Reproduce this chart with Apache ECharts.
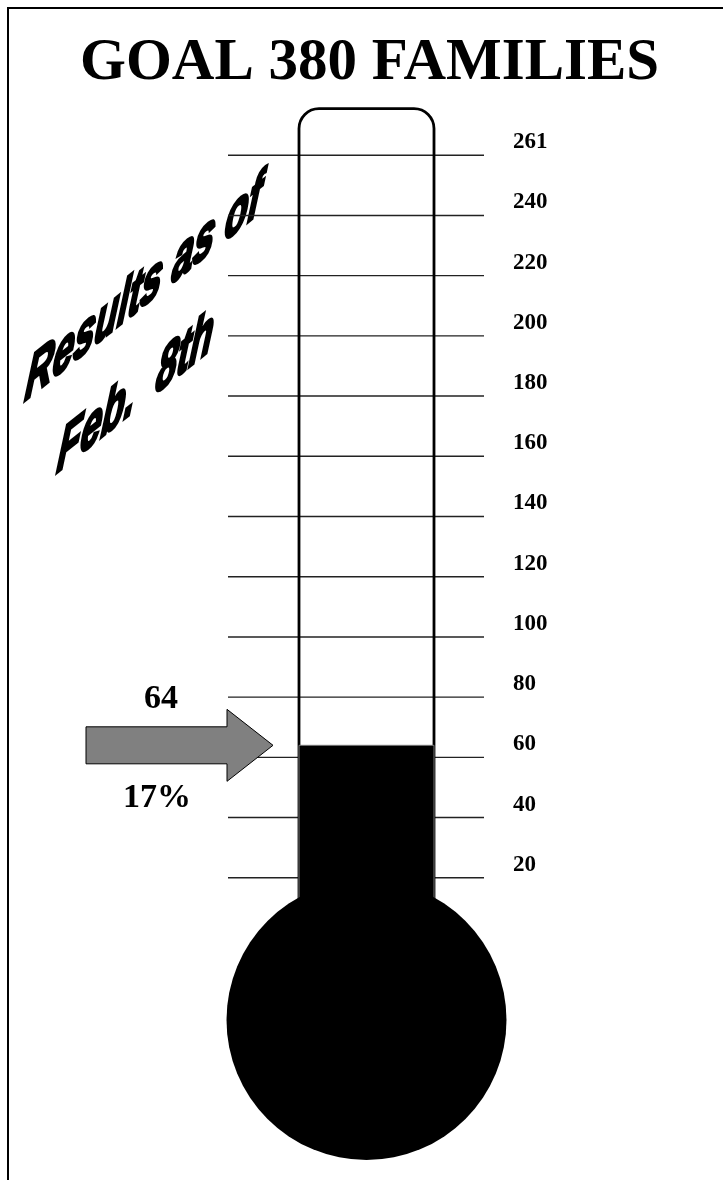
<!DOCTYPE html>
<html><head><meta charset="utf-8">
<script src="https://cdn.jsdelivr.net/npm/echarts@6/dist/echarts.min.js"></script>
<style>html,body{margin:0;padding:0;background:#fff}#chart{width:723px;height:1180px}</style>
</head><body><div id="chart"></div>
<script>
const titleText = 'GOAL 380 FAMILIES';
const goal = 380;
const current = [64];
const tickValues = [20, 40, 60, 80, 100, 120, 140, 160, 180, 200, 220, 240, 260];
const tickLabels = ['20', '40', '60', '80', '100', '120', '140', '160', '180', '200', '220', '240', '261'];
const noteLines = ['Results as of', 'Feb.  8th'];

const pct = Math.round(current[0] / goal * 100) + '%';
const TUBE_TOP = 275.5;
const chart = echarts.init(document.getElementById('chart'), null, {renderer: 'canvas'});

const noteStyle = {
  fontFamily: 'Liberation Sans, Arial, sans-serif', fontWeight: 'bold', fontStyle: 'italic',
  fontSize: 64, fill: '#000', stroke: '#000', lineWidth: 3.5, lineJoin: 'round', align: 'left', verticalAlign: 'middle'
};

const option = {
  animation: false,
  backgroundColor: '#fff',
  title: {
    text: titleText, left: 80, top: 34, padding: 0,
    textStyle: {fontFamily: 'Liberation Serif, Times New Roman, serif', fontWeight: 'bold', fontSize: 59, color: '#000'}
  },
  grid: {left: 228, right: 239, top: 95, bottom: 242, outerBoundsMode: 'none', containLabel: false},
  xAxis: {type: 'value', min: 0, max: 256, show: false},
  yAxis: {
    type: 'value', min: 0, max: 280, interval: 20, position: 'right',
    axisLine: {show: false}, axisTick: {show: false}, splitLine: {show: false},
    axisLabel: {
      margin: 29, align: 'left', verticalAlign: 'bottom', lineHeight: 26, color: '#000', fontSize: 23, fontWeight: 'bold',
      fontFamily: 'Liberation Serif, Times New Roman, serif',
      formatter: function (v) { const i = tickValues.indexOf(v); return i >= 0 ? tickLabels[i] : ''; }
    }
  },
  graphic: [
    {type: 'line', shape: {x1: 7, y1: 8, x2: 723, y2: 8}, style: {stroke: '#000', lineWidth: 2}},
    {type: 'line', shape: {x1: 8, y1: 7, x2: 8, y2: 1180}, style: {stroke: '#000', lineWidth: 2}},
    {type: 'text', x: 26, y: 384, scaleX: 0.59, skewY: Math.atan(0.8), skewX: -0.12,
      style: Object.assign({text: noteLines[0]}, noteStyle)},
    {type: 'text', x: 58, y: 456, scaleX: 0.59, skewY: Math.atan(0.8), skewX: -0.12,
      style: Object.assign({text: noteLines[1]}, noteStyle)}
  ],
  series: [
    {
      type: 'custom', name: 'ticks', clip: false,
      encode: {x: 0, y: 1},
      data: tickValues.map(v => [0, v]),
      renderItem: function (params, api) {
        const v = api.value(1);
        const p1 = api.coord([0, v]);
        const p2 = api.coord([256, v]);
        return {type: 'line', shape: {x1: p1[0], y1: p1[1], x2: p2[0], y2: p2[1]},
          style: {stroke: '#222', lineWidth: 1.4}};
      }
    },
    {
      type: 'custom', name: 'families', clip: false,
      encode: {x: 0, y: 1},
      data: current.map(v => [0, v]),
      renderItem: function (params, api) {
        const v = api.value(1);
        const zero = api.coord([0, 0]);
        const top = api.coord([0, TUBE_TOP]);
        const lvl = api.coord([0, v]);
        const gx = zero[0];
        const tubeL = gx + 71, tubeR = gx + 206;
        const bulbCx = gx + 138.5, bulbCy = zero[1] + 82, bulbR = 140;
        const y = lvl[1];
        const tipX = tubeL - 26;
        const pts = [[tipX, y], [tipX - 46, y - 36], [tipX - 46, y - 18.5], [tipX - 187, y - 18.5],
          [tipX - 187, y + 18.5], [tipX - 46, y + 18.5], [tipX - 46, y + 36]];
        const lblFont = {fontFamily: 'Liberation Serif, Times New Roman, serif', fontWeight: 'bold',
          fontSize: 34, fill: '#000', align: 'center', verticalAlign: 'middle'};
        return {
          type: 'group',
          children: [
            {type: 'rect', shape: {x: tubeL, y: top[1], width: tubeR - tubeL, height: bulbCy - top[1], r: [20, 20, 0, 0]},
              style: {fill: 'none', stroke: '#000', lineWidth: 2.8}},
            {type: 'rect', shape: {x: tubeL, y: y, width: tubeR - tubeL, height: bulbCy - y},
              style: {fill: '#000', stroke: '#777', lineWidth: 1}},
            {type: 'circle', shape: {cx: bulbCx, cy: bulbCy, r: bulbR}, style: {fill: '#000'}},
            {type: 'polygon', shape: {points: pts}, style: {fill: '#808080', stroke: '#000', lineWidth: 1}},
            {type: 'text', style: Object.assign({text: String(v), x: tipX - 112, y: y - 46}, lblFont)},
            {type: 'text', style: Object.assign({text: pct, x: tipX - 116, y: y + 53}, lblFont)}
          ]
        };
      }
    }
  ]
};
chart.setOption(option);
</script>
</body></html>
